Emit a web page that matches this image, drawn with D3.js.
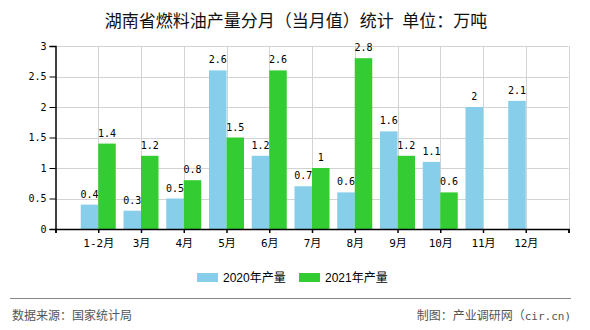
<!DOCTYPE html>
<html><head><meta charset="utf-8">
<script src="https://cdn.jsdelivr.net/npm/d3@7"></script>
<style>
body{margin:0;background:#fff;}
svg{display:block;}
</style></head>
<body>
<script>
const categories = ["1-2月","3月","4月","5月","6月","7月","8月","9月","10月","11月","12月"];
const values2020 = [0.4,0.3,0.5,2.6,1.2,0.7,0.6,1.6,1.1,2,2.1];
const values2021 = [1.4,1.2,0.8,1.5,2.6,1,2.8,1.2,0.6,null,null];
const seriesNames = ["2020年产量","2021年产量"];
const yTicks = [0,0.5,1,1.5,2,2.5,3];
const titleText = "湖南省燃料油产量分月（当月值）统计\u2002单位：万吨";
const sourceText = "数据来源：国家统计局";
const creditText = "制图：产业调研网（";
const creditTail = "cir.cn)";

(function(){
const W=590,H=330;
const colors=["#87CEEB","#33CC33"];
const mono="'DejaVu Sans Mono','Noto Sans CJK SC',monospace";
const cjk="'Noto Sans CJK SC',sans-serif";

const svg=d3.select("body").append("svg").attr("width",W).attr("height",H);

const pL=55.5,pR=568.5,pT=46,pB=229;
const slots=["_s"].concat(categories,["_e"]);
const x=d3.scalePoint().domain(slots).range([pL,pR]).padding(0);
const y=d3.scaleLinear().domain([0,3]).range([pB,pT]);
const bw=17.5;

// title
svg.append("text").attr("x",296).attr("y",27).attr("text-anchor","middle")
  .style("font-family",cjk).style("font-size","17px").attr("fill","#111").text(titleText);

// grid
const g=svg.append("g");
g.selectAll(".hg").data(yTicks).join("line")
  .attr("x1",pL).attr("x2",pR).attr("y1",d=>Math.round(y(d))+0.5).attr("y2",d=>Math.round(y(d))+0.5)
  .attr("stroke","#d3d3d3").attr("stroke-width",1);
g.selectAll(".vg").data(slots.slice(1)).join("line")
  .attr("x1",d=>Math.round(x(d))+0.5).attr("x2",d=>Math.round(x(d))+0.5).attr("y1",pT).attr("y2",pB)
  .attr("stroke","#d3d3d3").attr("stroke-width",1);

// bars
const series=[values2020,values2021];
series.forEach((vals,si)=>{
  const data=categories.map((c,i)=>({c,v:vals[i]})).filter(d=>d.v!=null);
  svg.append("g").selectAll("rect").data(data).join("rect")
    .attr("x",d=>x(d.c)+(si===0?-bw:0))
    .attr("width",bw)
    .attr("y",d=>y(d.v)).attr("height",d=>pB-y(d.v))
    .attr("fill",colors[si]);
  svg.append("g").selectAll("text").data(data).join("text")
    .attr("x",d=>x(d.c)+(si===0?-bw/2:bw/2))
    .attr("y",d=>y(d.v)-7)
    .attr("text-anchor","middle")
    .style("font-family",mono).style("font-size","10px").attr("fill","#000")
    .text(d=>d.v);
});

// y axis
const ya=svg.append("g").attr("transform",`translate(${pL},0)`)
  .call(d3.axisLeft(y).tickValues(yTicks).tickSize(6).tickPadding(3).tickFormat(d=>d));
ya.select(".domain").attr("stroke","#000").attr("stroke-width",1.5);
ya.selectAll(".tick line").attr("stroke","#000");
ya.selectAll(".tick text").style("font-family",mono).style("font-size","10px").attr("fill","#000");

// x axis
const xa=svg.append("g").attr("transform",`translate(0,${pB})`)
  .call(d3.axisBottom(x).tickSize(4).tickPadding(6).tickFormat(d=>d.startsWith("_")?"":d));
xa.select(".domain").attr("stroke","#000").attr("stroke-width",1.5);
xa.selectAll(".tick line").attr("stroke","#000").attr("stroke-width",1.5);
xa.selectAll(".tick text").style("font-family",mono).style("font-size","11px").attr("fill","#000");

// legend
const lg=svg.append("g");
const lx=[197,299];
seriesNames.forEach((n,i)=>{
  lg.append("rect").attr("x",lx[i]).attr("y",273).attr("width",21).attr("height",9).attr("fill",colors[i]);
  lg.append("text").attr("x",lx[i]+26).attr("y",282).style("font-family","'Liberation Sans','Noto Sans CJK SC',sans-serif")
    .style("font-size","12px").attr("fill","#000").text(n);
});

// footer
svg.append("line").attr("x1",10).attr("x2",571).attr("y1",298.5).attr("y2",298.5).attr("stroke","#888").attr("stroke-width",1);
svg.append("text").attr("x",12).attr("y",320).style("font-family",cjk).style("font-size","12px").attr("fill","#555").text(sourceText);
const ct=svg.append("text").attr("x",571).attr("y",320).attr("text-anchor","end").style("font-family",cjk).style("font-size","12px").attr("fill","#555");
ct.append("tspan").text(creditText);
ct.append("tspan").style("font-family",mono).style("font-size","11px").text(creditTail);
})();
</script>
</body></html>
